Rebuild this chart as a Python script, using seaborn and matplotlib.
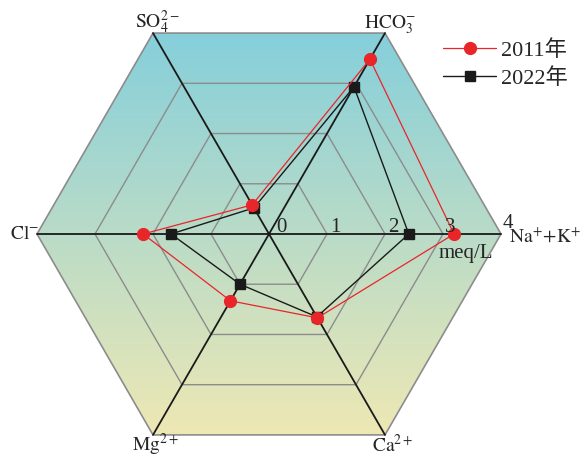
"""
Hexagonal radar chart of major ions (meq/L), 2011 vs 2022.
"""

import numpy as np
import pandas as pd
import seaborn as sns
import matplotlib.pyplot as plt
from matplotlib.patches import Polygon
from matplotlib.lines import Line2D

# axes, counter-clockwise from the right
ions = ['Na+K', 'HCO3', 'SO4', 'Cl', 'Mg', 'Ca']
ion_labels = [r'$\mathrm{Na^{+}\!+\!K^{+}}$', r'$\mathrm{HCO_3^{-}}$', r'$\mathrm{SO_4^{2-}}$',
              r'$\mathrm{Cl^{-}}$', r'$\mathrm{Mg^{2+}}$', r'$\mathrm{Ca^{2+}}$']
angles_deg = [0, 60, 120, 180, 240, 300]
vals_2011 = [3.19, 3.48, 0.58, 2.17, 1.33, 1.67]
vals_2022 = [2.41, 2.93, 0.52, 1.69, 1.00, 1.65]
rings = [1, 2, 3, 4]
tick_labels = ['0', '1', '2', '3', '4']

sns.set_style('white')
plt.rcParams['font.family'] = ['Liberation Serif', 'Noto Sans CJK SC']
plt.rcParams['mathtext.fontset'] = 'stix'

theta = np.deg2rad(angles_deg)
cx, cy = np.cos(theta), np.sin(theta)

fig = plt.figure(figsize=(5.84, 4.58), dpi=100)
ax = fig.add_axes([0, 0, 1, 1])
u = 58.0
ax.set_xlim(-269 / u, (584 - 269) / u)
ax.set_ylim(-(458 - 234) / u, 234 / u)
ax.set_aspect('equal')
ax.axis('off')

# gradient fill inside the outer hexagon
R = rings[-1]
hexagon = Polygon(np.column_stack([R * cx, R * cy]), closed=True,
                  facecolor='none', edgecolor='#8c8c8c', lw=1.2, zorder=2)
ax.add_patch(hexagon)
top = np.array([0x85, 0xcf, 0xdb]) / 255
bot = np.array([0xee, 0xe8, 0xb4]) / 255
t = np.linspace(0, 1, 256)[:, None]
grad = (top * (1 - t) + bot * t)[:, None, :]
h = R * np.sin(np.pi / 3)
img = ax.imshow(grad, extent=[-R, R, -h, h], aspect='auto', zorder=1,
                interpolation='bilinear')
img.set_clip_path(hexagon)

# inner rings
for r in rings[:-1]:
    ax.add_patch(Polygon(np.column_stack([r * cx, r * cy]), closed=True,
                         facecolor='none', edgecolor='#8c8c8c', lw=1.0, zorder=2))

# spokes
for i in range(3):
    ax.plot([R * cx[i], R * cx[i + 3]], [R * cy[i], R * cy[i + 3]],
            color='#1a1a1a', lw=1.3, zorder=3)

# series
for vals, color, marker, ms, lw, z in [(vals_2022, '#1a1a1a', 's', 7.5, 1.0, 4),
                                       (vals_2011, '#e8262a', 'o', 8.5, 0.9, 5)]:
    v = np.array(vals + vals[:1])
    df = pd.DataFrame({'x': v * np.append(cx, cx[0]), 'y': v * np.append(cy, cy[0])})
    sns.lineplot(data=df, x='x', y='y', sort=False, estimator=None, ax=ax,
                 color=color, lw=lw, zorder=z)
    ax.plot(df['x'][:-1], df['y'][:-1], ls='none', marker=marker, ms=ms,
            color=color, mec=color, zorder=z + 0.5)

# tick labels along the Na+K axis
tick_dx = [0.13, 0.05, 0.05, 0.03, 0.02]
tick_dy = [0.04, 0.04, 0.04, 0.04, 0.10]
for k, lab in enumerate(tick_labels):
    ax.text(k + tick_dx[k], tick_dy[k], lab, fontsize=15, ha='left', va='baseline', zorder=6)
ax.text(3.4, -0.33, 'meq/L', fontsize=15, ha='center', va='center', zorder=6)

# ion labels
lab_pos = [(4.14, -0.06, 'left'), (2.09, 3.6, 'center'), (-1.92, 3.65, 'center'),
           (-3.96, 0.0, 'right'), (-1.95, -3.64, 'center'), (2.14, -3.64, 'center')]
for lab, (x, y, ha) in zip(ion_labels, lab_pos):
    ax.text(x, y, lab, fontsize=14, ha=ha, va='center', zorder=6)

handles = [Line2D([], [], color='#e8262a', lw=0.9, marker='o', ms=8.5),
           Line2D([], [], color='#1a1a1a', lw=1.0, marker='s', ms=7.5)]
fig.legend(handles, ['2011年', '2022年'], loc='upper left',
           bbox_to_anchor=(432 / 584, 1 - 29 / 458), frameon=False, fontsize=16,
           handlelength=2.4, handletextpad=0.2, labelspacing=0.32, borderpad=0)

fig.savefig('out.png', dpi=100)
